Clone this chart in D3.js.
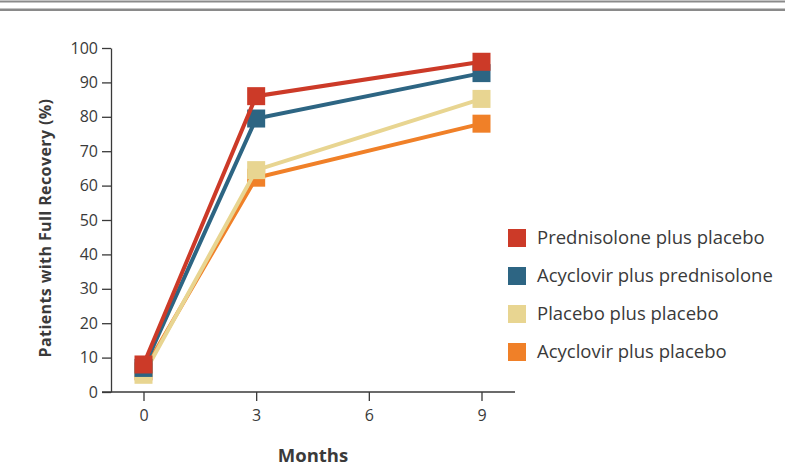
<!DOCTYPE html>
<html>
<head>
<meta charset="utf-8">
<script src="https://cdn.jsdelivr.net/npm/d3@7"></script>
<style>
  html, body { margin: 0; padding: 0; background: #fff; }
  svg { display: block; }
  text { font-family: "Open Sans", Lato, sans-serif; fill: #3a3a3a; }
</style>
</head>
<body>
<svg id="chart" width="785" height="472"></svg>
<script>
const months = [0, 3, 9];
const xTicks = [0, 3, 6, 9];
const yTicks = [0, 10, 20, 30, 40, 50, 60, 70, 80, 90, 100];
const seriesNames = ["Prednisolone plus placebo", "Acyclovir plus prednisolone", "Placebo plus placebo", "Acyclovir plus placebo"];
const seriesColors = ["#cc3a28", "#2d6583", "#e8d591", "#f08028"];
const prednisolonePlacebo = [8, 86, 96];
const acyclovirPrednisolone = [7, 79.5, 92.7];
const placeboPlacebo = [5, 64.5, 85.2];
const acyclovirPlacebo = [6, 62.3, 78];
const seriesValues = [prednisolonePlacebo, acyclovirPrednisolone, placeboPlacebo, acyclovirPlacebo];
const drawOrder = [3, 2, 1, 0];

const svg = d3.select("#chart");

// top rules
svg.append("rect").attr("x", 0).attr("y", 0.5).attr("width", 785).attr("height", 2).attr("fill", "#8a8a8a");
svg.append("rect").attr("x", 0).attr("y", 8.5).attr("width", 785).attr("height", 2.5).attr("fill", "#8a8a8a");

const x = d3.scaleLinear().domain([0, 9]).range([143.5, 481.5]);
const y = d3.scaleLinear().domain([0, 100]).range([392, 48]);

const tickFont = "\"Open Sans\", Lato, sans-serif";

// y axis
const yAxis = svg.append("g").attr("transform", "translate(111,0)")
  .call(d3.axisLeft(y).tickValues(yTicks).tickSize(9).tickPadding(4).tickSizeOuter(0));
yAxis.select(".domain").attr("stroke", "#3a3a3a").attr("stroke-width", 1.3);
yAxis.selectAll(".tick line").attr("stroke", "#3a3a3a").attr("stroke-width", 1.3);
yAxis.selectAll(".tick text").style("font-size", "16px").style("font-family", tickFont).attr("fill", "#3a3a3a");

// x axis
const xAxisG = svg.append("g").attr("transform", "translate(0,392)");
xAxisG.append("line").attr("x1", 102).attr("x2", 515).attr("y1", 0).attr("y2", 0)
  .attr("stroke", "#3a3a3a").attr("stroke-width", 1.3);
const xAxis = xAxisG.call(d3.axisBottom(x).tickValues(xTicks).tickSize(9).tickPadding(9).tickSizeOuter(0));
xAxis.select(".domain").remove();
xAxis.selectAll(".tick line").attr("stroke", "#3a3a3a").attr("stroke-width", 1.3);
xAxis.selectAll(".tick text").style("font-size", "16px").style("font-family", tickFont).attr("fill", "#3a3a3a");

// axis titles
svg.append("text").attr("x", 313).attr("y", 462).attr("text-anchor", "middle")
  .style("font-size", "18.5px").style("font-weight", "bold").text("Months");
svg.append("text").attr("transform", "translate(51,228) rotate(-90)").attr("text-anchor", "middle")
  .style("font-size", "16px").style("font-weight", "bold").style("letter-spacing", "0.4px")
  .text("Patients with Full Recovery (%)");

// lines and markers
const line = d3.line().x((d, i) => x(months[i])).y(d => y(d));
const sq = 18;
drawOrder.forEach(si => {
  const g = svg.append("g");
  g.append("path").datum(seriesValues[si]).attr("d", line)
    .attr("fill", "none").attr("stroke", seriesColors[si]).attr("stroke-width", 4);
  g.selectAll("rect").data(seriesValues[si]).enter().append("rect")
    .attr("x", (d, i) => x(months[i]) - sq / 2)
    .attr("y", d => y(d) - sq / 2)
    .attr("width", sq).attr("height", sq)
    .attr("fill", seriesColors[si]);
});

// legend
const legend = svg.append("g");
seriesNames.forEach((name, i) => {
  const cy = 238 + i * 38;
  legend.append("rect").attr("x", 508).attr("y", cy - 9).attr("width", 18).attr("height", 18)
    .attr("fill", seriesColors[i]);
  legend.append("text").attr("x", 537).attr("y", cy).attr("dy", "0.35em")
    .style("font-size", "18.5px").text(name);
});
</script>
</body>
</html>
